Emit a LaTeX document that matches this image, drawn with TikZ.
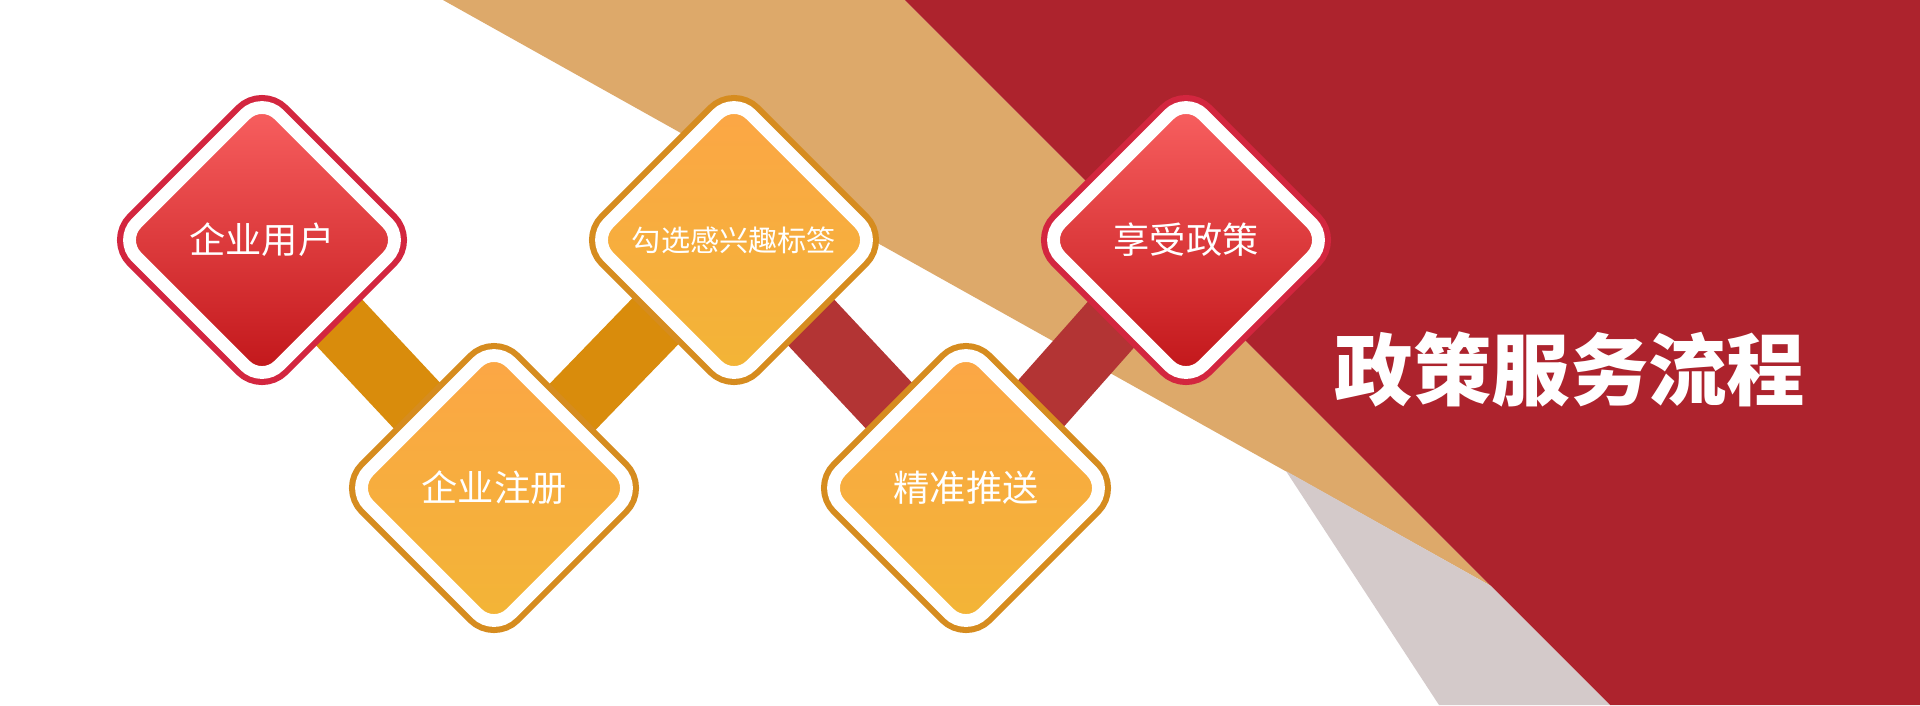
\documentclass[tikz,border=0pt]{standalone}
\usepackage{fontspec}
\setmainfont{Noto Sans CJK SC}
\usetikzlibrary{shapes.geometric}

\definecolor{sand}{HTML}{DDA96A}
\definecolor{wine}{HTML}{AD232D}
\definecolor{ash}{HTML}{D4CACA}
\definecolor{amberbar}{HTML}{D98C0C}
\definecolor{rustbar}{HTML}{B33434}
\definecolor{rimred}{HTML}{D3263F}
\definecolor{rimgold}{HTML}{D68C1F}
\definecolor{redtop}{HTML}{FA6262}
\definecolor{redbot}{HTML}{C01418}
\definecolor{goldtop}{HTML}{FCA646}
\definecolor{goldbot}{HTML}{F2B536}

\pgfdeclarelayer{back}
\pgfdeclarelayer{bars}
\pgfsetlayers{back,bars,main}

\begin{document}
\begin{tikzpicture}[
  x=0.01cm, y=-0.01cm,
  tile/.style={
    shape=diamond,
    aspect=1,
    inner sep=0pt,
    minimum width=29mm,
    minimum height=29mm,
    rounded corners=2.4mm,
    draw=white,
    line width=1.28mm,
    text=white,
    font=\fontsize{10.3}{12}\selectfont
  },
  redtile/.style={
    tile,
    preaction={draw=rimred, line width=2.5mm},
    top color=redtop,
    bottom color=redbot
  },
  goldtile/.style={
    tile,
    preaction={draw=rimgold, line width=2.5mm},
    top color=goldtop,
    bottom color=goldbot
  },
  link/.style={line width=6.5mm},
  heading/.style={text=white, font=\bfseries\fontsize{22.3}{26}\selectfont}
]
\useasboundingbox (0,0) rectangle (1920,705);

% Backdrop bands on the right.
\begin{pgfonlayer}{back}
\fill[white] (0,0) rectangle (1920,705);
\fill[sand] (443,0) -- (905,0) -- (1491,586) -- cycle;
\fill[wine] (905,0) -- (1920,0) -- (1920,705) -- (1610,705) -- cycle;
\fill[ash] (1286,471) -- (1491,586) -- (1610,705) -- (1439,705) -- cycle;
\end{pgfonlayer}

% The five steps, zig-zagging left to right.
\node[redtile] (user) at (262,240) {企业用户};
\node[goldtile] (signup) at (494,488) {企业注册};
\node[goldtile, font=\fontsize{8.3}{10}\selectfont] (tags) at (734,240) {勾选感兴趣标签};
\node[goldtile] (push) at (966,488) {精准推送};
\node[redtile] (policy) at (1186,240) {享受政策};

% Bars joining the steps, kept behind the tiles.
\begin{pgfonlayer}{bars}
\draw[link, amberbar] (user.center) -- (signup.center);
\draw[link, amberbar] (signup.center) -- (tags.center);
\draw[link, rustbar] (tags.center) -- (push.center);
\draw[link, rustbar] (push.center) -- (policy.center);
\end{pgfonlayer}

\node[heading] (head) at (1570,369) {政策服务流程};

\end{tikzpicture}
\end{document}
